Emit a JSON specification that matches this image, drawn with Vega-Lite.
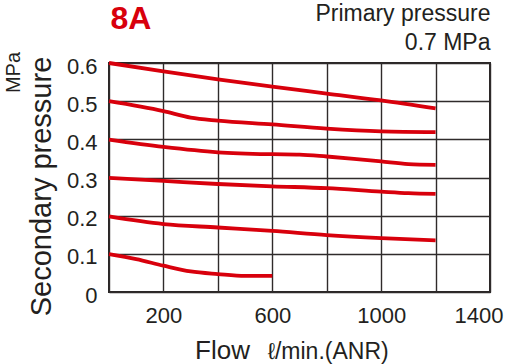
{
  "$schema": "https://vega.github.io/schema/vega-lite/v6.json",
  "width": 381,
  "height": 229,
  "autosize": {"type": "none"},
  "padding": {"left": 109, "top": 63, "right": 20, "bottom": 72},
  "background": "white",
  "config": {
    "font": "Liberation Sans",
    "view": {"stroke": "#2b2727", "strokeWidth": 2},
    "axis": {
      "labelColor": "#231f20",
      "titleColor": "#231f20",
      "titleFontWeight": "normal",
      "gridColor": "#2f2b2b",
      "gridOpacity": 1,
      "gridWidth": 1.4,
      "ticks": false,
      "domain": false
    }
  },
  "datasets": {
    "curves": [
      {"set": "0.6", "flow": 0, "pressure": 0.600},
      {"set": "0.6", "flow": 200, "pressure": 0.578},
      {"set": "0.6", "flow": 400, "pressure": 0.557},
      {"set": "0.6", "flow": 600, "pressure": 0.538},
      {"set": "0.6", "flow": 800, "pressure": 0.520},
      {"set": "0.6", "flow": 1000, "pressure": 0.502},
      {"set": "0.6", "flow": 1200, "pressure": 0.481},
      {"set": "0.5", "flow": 0, "pressure": 0.500},
      {"set": "0.5", "flow": 200, "pressure": 0.474},
      {"set": "0.5", "flow": 300, "pressure": 0.457},
      {"set": "0.5", "flow": 400, "pressure": 0.449},
      {"set": "0.5", "flow": 600, "pressure": 0.439},
      {"set": "0.5", "flow": 800, "pressure": 0.428},
      {"set": "0.5", "flow": 1000, "pressure": 0.421},
      {"set": "0.5", "flow": 1200, "pressure": 0.419},
      {"set": "0.4", "flow": 0, "pressure": 0.399},
      {"set": "0.4", "flow": 200, "pressure": 0.380},
      {"set": "0.4", "flow": 400, "pressure": 0.366},
      {"set": "0.4", "flow": 600, "pressure": 0.361},
      {"set": "0.4", "flow": 700, "pressure": 0.360},
      {"set": "0.4", "flow": 800, "pressure": 0.355},
      {"set": "0.4", "flow": 900, "pressure": 0.349},
      {"set": "0.4", "flow": 1000, "pressure": 0.342},
      {"set": "0.4", "flow": 1100, "pressure": 0.335},
      {"set": "0.4", "flow": 1200, "pressure": 0.333},
      {"set": "0.3", "flow": 0, "pressure": 0.299},
      {"set": "0.3", "flow": 200, "pressure": 0.291},
      {"set": "0.3", "flow": 400, "pressure": 0.283},
      {"set": "0.3", "flow": 600, "pressure": 0.277},
      {"set": "0.3", "flow": 800, "pressure": 0.272},
      {"set": "0.3", "flow": 1000, "pressure": 0.263},
      {"set": "0.3", "flow": 1100, "pressure": 0.259},
      {"set": "0.3", "flow": 1200, "pressure": 0.257},
      {"set": "0.2", "flow": 0, "pressure": 0.198},
      {"set": "0.2", "flow": 200, "pressure": 0.178},
      {"set": "0.2", "flow": 400, "pressure": 0.169},
      {"set": "0.2", "flow": 600, "pressure": 0.160},
      {"set": "0.2", "flow": 800, "pressure": 0.149},
      {"set": "0.2", "flow": 1000, "pressure": 0.141},
      {"set": "0.2", "flow": 1200, "pressure": 0.135},
      {"set": "0.1", "flow": 0, "pressure": 0.099},
      {"set": "0.1", "flow": 100, "pressure": 0.086},
      {"set": "0.1", "flow": 200, "pressure": 0.069},
      {"set": "0.1", "flow": 300, "pressure": 0.054},
      {"set": "0.1", "flow": 400, "pressure": 0.047},
      {"set": "0.1", "flow": 500, "pressure": 0.042},
      {"set": "0.1", "flow": 600, "pressure": 0.042}
    ]
  },
  "layer": [
    {
      "data": {"name": "curves"},
      "mark": {"type": "line", "color": "#d8000c", "strokeWidth": 3.8, "interpolate": "monotone", "strokeCap": "butt"},
      "encoding": {
        "x": {
          "field": "flow", "type": "quantitative",
          "scale": {"domain": [0, 1400], "nice": false},
          "axis": {
            "values": [0, 200, 400, 600, 800, 1000, 1200, 1400],
            "format": "d",
            "labelExpr": "datum.value % 400 == 200 ? datum.label : ''",
            "grid": true,
            "labelFontSize": 22,
            "labelPadding": 13,
            "labelFlush": true,
            "labelFlushOffset": 13,
            "title": "Flow",
            "titleFontSize": 26,
            "titleX": 113,
            "titleY": 66,
            "titleAlign": "center",
            "titleBaseline": "alphabetic"
          }
        },
        "y": {
          "field": "pressure", "type": "quantitative",
          "scale": {"domain": [0, 0.6], "nice": false},
          "axis": {
            "values": [0, 0.1, 0.2, 0.3, 0.4, 0.5, 0.6],
            "format": "~g",
            "grid": true,
            "labelFontSize": 22,
            "labelPadding": 12,
            "labelOffset": 3,
            "title": "Secondary pressure",
            "titleFontSize": 29,
            "titleAngle": 270,
            "titleX": -59,
            "titleY": 123,
            "titleAlign": "center",
            "titleBaseline": "alphabetic"
          }
        },
        "detail": {"field": "set", "type": "nominal"}
      }
    },
    {
      "data": {"name": "curves"},
      "mark": {"type": "rule", "opacity": 0},
      "encoding": {
        "x": {
          "field": "flow", "type": "quantitative",
          "scale": {"domain": [0, 1400], "nice": false},
          "axis": {
            "orient": "top", "labels": false, "grid": false,
            "title": ["Primary pressure", "0.7 MPa"],
            "titleFontSize": 23,
            "titleLineHeight": 29,
            "titleX": 381,
            "titleY": -43,
            "titleAlign": "right",
            "titleBaseline": "alphabetic"
          }
        }
      }
    },
    {
      "data": {"name": "curves"},
      "mark": {"type": "rule", "opacity": 0},
      "encoding": {
        "x": {
          "field": "flow", "type": "quantitative",
          "scale": {"domain": [0, 1400], "nice": false},
          "axis": {
            "orient": "top", "labels": false, "grid": false,
            "title": "8A",
            "titleFontSize": 32,
            "titleFontWeight": "bold",
            "titleColor": "#d8000c",
            "titleX": 1,
            "titleY": -35,
            "titleAlign": "left",
            "titleBaseline": "alphabetic"
          }
        },
        "y": {
          "field": "pressure", "type": "quantitative",
          "scale": {"domain": [0, 0.6], "nice": false},
          "axis": {
            "orient": "left", "labels": false, "grid": false,
            "title": "MPa",
            "titleFontSize": 20,
            "titleAngle": 270,
            "titleX": -90,
            "titleY": 9,
            "titleAlign": "center",
            "titleBaseline": "alphabetic"
          }
        }
      }
    },
    {
      "data": {"name": "curves"},
      "mark": {"type": "rule", "opacity": 0},
      "encoding": {
        "x": {
          "field": "flow", "type": "quantitative",
          "scale": {"domain": [0, 1400], "nice": false},
          "axis": {
            "orient": "bottom", "labels": false, "grid": false,
            "title": "ℓ/min.(ANR)",
            "titleFontSize": 23,
            "titleX": 158,
            "titleY": 66,
            "titleAlign": "left",
            "titleBaseline": "alphabetic"
          }
        }
      }
    }
  ],
  "resolve": {
    "scale": {"x": "independent", "y": "independent"},
    "axis": {"x": "independent", "y": "independent"}
  }
}
